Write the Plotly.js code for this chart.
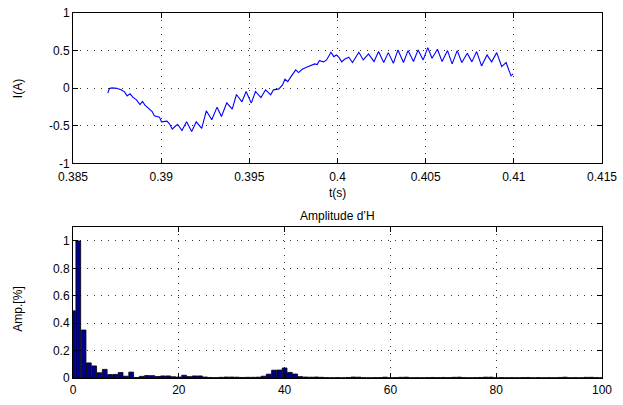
<!DOCTYPE html>
<html>
<head>
<meta charset="utf-8">
<script src="https://cdn.plot.ly/plotly-3.0.1.min.js"></script>
<style>html,body{margin:0;padding:0;background:#fff;}#chart{width:623px;height:405px;}</style>
</head>
<body>
<div id="chart"></div>
<script>
// Top panel: current vs time
const timeS = [0.38697,0.38707,0.38721,0.38748,0.38772,0.38792,0.38807,0.38823,0.38839,0.38860,
0.38880,0.38894,0.38908,0.38929,0.38949,0.38961,0.38976,0.38990,0.39002,0.39016,
0.39033,0.39047,0.39063,0.39083,0.39094,0.39118,0.39144,0.39173,0.39199,0.39230,
0.39256,0.39287,0.39317,0.39342,0.39372,0.39403,0.39427,0.39458,0.39482,0.39511,
0.39535,0.39566,0.39592,0.39621,0.39637,0.39668,0.39688,0.39702,0.39718,0.39739,
0.39763,0.39779,0.39800,0.39824,0.39851,0.39871,0.39885,0.39897,0.39922,0.39938,
0.39963,0.39979,0.39993,0.40007,0.40024,0.40040,0.40064,0.40085,0.40121,0.40146,
0.40176,0.40207,0.40233,0.40262,0.40288,0.40317,0.40343,0.40374,0.40400,0.40431,
0.40457,0.40486,0.40512,0.40536,0.40567,0.40593,0.40624,0.40650,0.40679,0.40705,
0.40736,0.40762,0.40789,0.40817,0.40848,0.40874,0.40903,0.40931,0.40956,0.40984,0.40996];
const currentA = [-0.066,-0.004,0.004,0.0,-0.022,-0.049,-0.102,-0.075,-0.119,-0.155,
-0.217,-0.177,-0.226,-0.270,-0.310,-0.367,-0.376,-0.385,-0.447,-0.442,
-0.438,-0.473,-0.544,-0.500,-0.482,-0.562,-0.447,-0.575,-0.447,-0.535,
-0.301,-0.420,-0.252,-0.376,-0.195,-0.279,-0.084,-0.181,-0.044,-0.199,
-0.044,-0.124,-0.022,-0.088,-0.022,-0.009,0.044,0.119,0.088,0.164,
0.243,0.208,0.252,0.279,0.305,0.323,0.314,0.367,0.350,0.376,
0.478,0.420,0.442,0.412,0.350,0.385,0.412,0.341,0.478,0.376,
0.456,0.354,0.487,0.341,0.473,0.332,0.509,0.341,0.500,0.354,
0.509,0.376,0.540,0.398,0.518,0.354,0.500,0.323,0.500,0.341,
0.465,0.350,0.487,0.296,0.442,0.350,0.473,0.288,0.341,0.164,0.190];

// Bottom panel: harmonic amplitudes
const harmonicOrder = [0,1,2,3,4,5,6,7,8,9,10,11,12,13,14,15,16,17,18,19,20,
21,22,23,24,25,26,27,28,29,30,31,32,33,34,35,36,37,38,39,40,
41,42,43,44,45,46,47,48,49,50,51,52,53,54,55,56,57,58,59,60,
61,62,63,64,65,66,67,68,69,70,71,72,73,74,75,76,77,78,79,80,
81,82,83,84,85,86,87,88,89,90,91,92,93,94,95,96,97,98,99,100];
const amplitude = [0.49,1.0,0.35,0.11,0.088,0.038,0.063,0.025,0.026,0.04,0.013,
0.043,0.004,0.012,0.018,0.017,0.011,0.015,0.015,0.009,0.007,
0.02,0.01,0.015,0.015,0.007,0.004,0.003,0.005,0.007,0.007,
0.006,0.004,0.005,0.005,0.006,0.013,0.028,0.057,0.058,0.073,
0.041,0.029,0.01,0.007,0.006,0.007,0.005,0.003,0.002,0.003,
0.002,0.004,0.007,0.006,0.003,0.002,0.003,0.003,0.006,0.002,
0.003,0.005,0.006,0.002,0.003,0.002,0.003,0.004,0.003,0.004,
0.003,0.005,0.006,0.003,0.002,0.003,0.004,0.006,0.006,0.002,
0.003,0.002,0.003,0.002,0.003,0.004,0.002,0.003,0.002,0.003,
0.002,0.004,0.006,0.002,0.003,0.002,0.005,0.005,0.003,0.002];

const topXTicks = [0.385,0.39,0.395,0.4,0.405,0.41,0.415];
const topXText = ["0.385","0.39","0.395","0.4","0.405","0.41","0.415"];
const topYTicks = [-1,-0.5,0,0.5,1];
const topYText = ["-1","-0.5","0","0.5","1"];
const botXTicks = [0,20,40,60,80,100];
const botYTicks = [0,0.2,0.4,0.6,0.8,1];
const botYText = ["0","0.2","0.4","0.6","0.8","1"];

const FONT = "Liberation Sans, Arial, Helvetica, sans-serif";
const axisCommon = {
  showline: true, linecolor: '#000', linewidth: 1, mirror: 'ticks',
  ticks: 'inside', ticklen: 5, tickcolor: '#000',
  showgrid: true, gridcolor: '#333', griddash: '1px,6px', gridwidth: 1,
  zeroline: false, tickfont: {family: FONT, size: 12, color: '#000'},
  tickmode: 'array'
};

const traces = [
  {x: timeS, y: currentA, type: 'scatter', mode: 'lines',
   line: {color: '#0000ff', width: 1.1}, xaxis: 'x', yaxis: 'y', hoverinfo: 'none'},
  {x: harmonicOrder, y: amplitude, type: 'bar', width: 0.9,
   marker: {color: '#00008c', line: {color: '#000', width: 0.8}},
   xaxis: 'x2', yaxis: 'y2', hoverinfo: 'none'}
];

const layout = {
  width: 623, height: 405,
  margin: {l: 73, r: 21, t: 13, b: 27},
  paper_bgcolor: '#fff', plot_bgcolor: '#fff',
  showlegend: false,
  font: {family: FONT, size: 12, color: '#000'},
  xaxis: Object.assign({}, axisCommon, {domain: [0,1], range: [0.385,0.415], anchor: 'y',
    tickvals: topXTicks, ticktext: topXText, ticklabelstandoff: 2}),
  yaxis: Object.assign({}, axisCommon, {domain: [0.588,1], range: [-1,1], anchor: 'x',
    tickvals: topYTicks, ticktext: topYText}),
  xaxis2: Object.assign({}, axisCommon, {domain: [0,1], range: [0,100], anchor: 'y2',
    tickvals: botXTicks, ticktext: botXTicks.map(String), ticklabelstandoff: 1}),
  yaxis2: Object.assign({}, axisCommon, {domain: [0,0.413], range: [0,1.1], anchor: 'x2',
    tickvals: botYTicks, ticktext: botYText}),
  bargap: 0,
  annotations: [
    {text: 't(s)', xref: 'paper', yref: 'paper', x: 0.5, y: 0.507, showarrow: false,
     xanchor: 'center', yanchor: 'middle', font: {family: FONT, size: 12, color: '#000'}},
    {text: 'Amplitude d’H', xref: 'paper', yref: 'paper', x: 0.5, y: 0.443, showarrow: false,
     xanchor: 'center', yanchor: 'middle', font: {family: FONT, size: 12, color: '#000'}},
    {text: 'I(A)', xref: 'paper', yref: 'paper', x: -0.104, y: 0.794, showarrow: false,
     textangle: -90, xanchor: 'center', yanchor: 'middle', font: {family: FONT, size: 12, color: '#000'}},
    {text: 'Amp.[%]', xref: 'paper', yref: 'paper', x: -0.104, y: 0.19, showarrow: false,
     textangle: -90, xanchor: 'center', yanchor: 'middle', font: {family: FONT, size: 12, color: '#000'}}
  ]
};

Plotly.newPlot('chart', traces, layout, {staticPlot: true, displayModeBar: false});
</script>
</body>
</html>
